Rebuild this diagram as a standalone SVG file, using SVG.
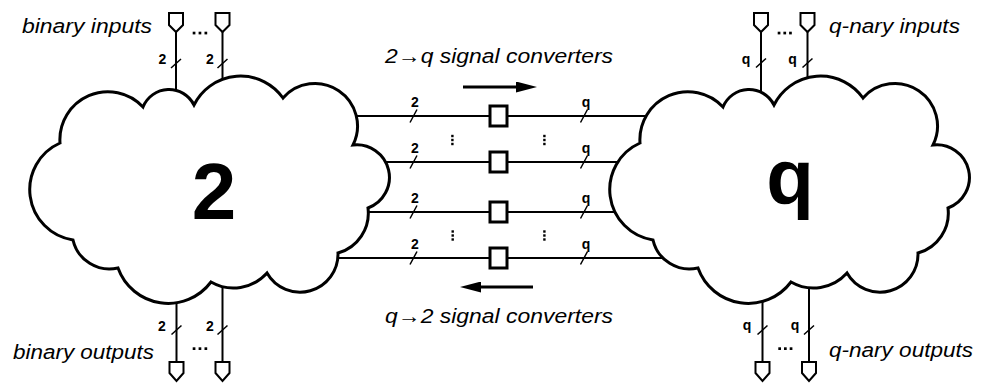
<svg xmlns="http://www.w3.org/2000/svg" width="982" height="383" viewBox="0 0 982 383">
<style>
.bg{fill:#fff}
.cloud{fill:#fff;stroke:#000;stroke-width:3;stroke-linejoin:miter}
.wire{stroke:#000;stroke-width:2;fill:none}
.slash{stroke:#000;stroke-width:1.5;fill:none}
.box{fill:#fff;stroke:#000;stroke-width:3}
.port{fill:#fff;stroke:#000;stroke-width:2;stroke-linejoin:miter}
.dir{stroke:#000;stroke-width:3;fill:none}
.dot{fill:#000}
.lbl{font-family:"Liberation Sans",Arial,sans-serif;font-weight:bold;font-size:14px;text-anchor:middle;fill:#000}
.cap{font-family:"Liberation Sans",Arial,sans-serif;font-style:italic;font-size:20px;fill:#000}
.big{font-family:"Liberation Sans",Arial,sans-serif;font-weight:bold;font-size:80px;text-anchor:middle;fill:#000}
</style>
<defs>
<marker id="head" viewBox="0 0 21 11" markerWidth="21" markerHeight="11" refX="9" refY="5.5" orient="auto" markerUnits="userSpaceOnUse">
<path d="M0,0 L21,5.5 L0,11 Z" fill="#000"/>
</marker>
<path id="cloudShape" d="M60,143 A48 48 0 0 1 143,107 A28 28 0 0 1 194,105 A52 52 0 0 1 283,98 A42.5 42.5 0 0 1 353,145 A32.6 32.6 0 0 1 368,208 A41.5 41.5 0 0 1 338,253 A38 38 0 0 1 267,273 A45 45 0 0 1 211,282 A53.4 53.4 0 0 1 118,268 A37.4 37.4 0 0 1 73,240 A51 51 0 0 1 60,143 Z"/>
</defs>
<rect class="bg" x="0" y="0" width="982" height="383"/>

<g id="connectors">
<line class="wire" x1="300" y1="116" x2="700" y2="116"/>
<line class="wire" x1="300" y1="162" x2="700" y2="162"/>
<line class="wire" x1="300" y1="212" x2="700" y2="212"/>
<line class="wire" x1="300" y1="258" x2="700" y2="258"/>
<line class="wire" x1="176" y1="32" x2="176" y2="100"/>
<line class="wire" x1="222.5" y1="32" x2="222.5" y2="95"/>
<line class="wire" x1="761" y1="32" x2="761" y2="100"/>
<line class="wire" x1="807.5" y1="32" x2="807.5" y2="95"/>
<line class="wire" x1="176.5" y1="290" x2="176.5" y2="362"/>
<line class="wire" x1="222.5" y1="270" x2="222.5" y2="362"/>
<line class="wire" x1="762.5" y1="290" x2="762.5" y2="362"/>
<line class="wire" x1="809" y1="270" x2="809" y2="362"/>
</g>

<g id="cloud-2">
<use href="#cloudShape" class="cloud"/>
<text class="big" x="214" y="218.5">2</text>
</g>
<g id="cloud-q">
<use href="#cloudShape" class="cloud" transform="translate(580,0)"/>
<text class="big" x="790" y="204" style="font-size:78px">q</text>
</g>

<g id="converters">
<rect class="box" x="490" y="106" width="17" height="20"/>
<rect class="box" x="490" y="152" width="17" height="20"/>
<rect class="box" x="490" y="202" width="17" height="20"/>
<rect class="box" x="490" y="248" width="17" height="20"/>
</g>

<g id="ports">
<polygon class="port" points="169,13 183,13 183,25 176,32 169,25"/>
<polygon class="port" points="215.5,13 229.5,13 229.5,25 222.5,32 215.5,25"/>
<polygon class="port" points="754,13 768,13 768,25 761,32 754,25"/>
<polygon class="port" points="800.5,13 814.5,13 814.5,25 807.5,32 800.5,25"/>
<polygon class="port" points="169.5,362 183.5,362 183.5,373 176.5,381 169.5,373"/>
<polygon class="port" points="215.5,362 229.5,362 229.5,373 222.5,381 215.5,373"/>
<polygon class="port" points="755.5,362 769.5,362 769.5,373 762.5,381 755.5,373"/>
<polygon class="port" points="802,362 816,362 816,373 809,381 802,373"/>
</g>

<g id="bus-widths">
<path class="slash" d="M410,122.5 L417,109.5 M580.5,122.5 L587.5,109.5 M410,168.5 L417,155.5 M580.5,168.5 L587.5,155.5 M410,218.5 L417,205.5 M580.5,218.5 L587.5,205.5 M410,264.5 L417,251.5 M580.5,264.5 L587.5,251.5"/>
<path class="slash" d="M171,68 L181,59 M217.5,68 L227.5,59 M756,67.5 L766,58.5 M802.5,67.5 L812.5,58.5 M171.5,334.5 L181.5,325.5 M217.5,334.5 L227.5,325.5 M757.5,334.5 L767.5,325.5 M804,334.5 L814,325.5"/>
<text class="lbl" x="415" y="106.5">2</text>
<text class="lbl" x="586" y="106.5">q</text>
<text class="lbl" x="415" y="152.5">2</text>
<text class="lbl" x="586" y="152.5">q</text>
<text class="lbl" x="415" y="202.5">2</text>
<text class="lbl" x="586" y="202.5">q</text>
<text class="lbl" x="415" y="248.5">2</text>
<text class="lbl" x="586" y="248.5">q</text>
<text class="lbl" x="162.5" y="64">2</text>
<text class="lbl" x="210" y="64">2</text>
<text class="lbl" x="746" y="63.5">q</text>
<text class="lbl" x="792.5" y="63.5">q</text>
<text class="lbl" x="162" y="331">2</text>
<text class="lbl" x="210" y="331">2</text>
<text class="lbl" x="747" y="330">q</text>
<text class="lbl" x="795" y="330">q</text>
</g>

<g id="ellipses">
<rect class="dot" x="192.7" y="31.7" width="2.7" height="2.7"/>
<rect class="dot" x="198.6" y="31.7" width="2.7" height="2.7"/>
<rect class="dot" x="204.5" y="31.7" width="2.7" height="2.7"/>
<rect class="dot" x="777.7" y="31.7" width="2.7" height="2.7"/>
<rect class="dot" x="783.4" y="31.7" width="2.7" height="2.7"/>
<rect class="dot" x="789.1" y="31.7" width="2.7" height="2.7"/>
<rect class="dot" x="192.7" y="347.3" width="2.7" height="2.7"/>
<rect class="dot" x="198.6" y="347.3" width="2.7" height="2.7"/>
<rect class="dot" x="204.5" y="347.3" width="2.7" height="2.7"/>
<rect class="dot" x="778.3" y="347.3" width="2.7" height="2.7"/>
<rect class="dot" x="784" y="347.3" width="2.7" height="2.7"/>
<rect class="dot" x="789.7" y="347.3" width="2.7" height="2.7"/>
<rect class="dot" x="451.2" y="134.8" width="2.4" height="2.4"/>
<rect class="dot" x="451.2" y="138.8" width="2.4" height="2.4"/>
<rect class="dot" x="451.2" y="142.8" width="2.4" height="2.4"/>
<rect class="dot" x="543.2" y="134.8" width="2.4" height="2.4"/>
<rect class="dot" x="543.2" y="138.8" width="2.4" height="2.4"/>
<rect class="dot" x="543.2" y="142.8" width="2.4" height="2.4"/>
<rect class="dot" x="451.5" y="230.3" width="2.4" height="2.4"/>
<rect class="dot" x="451.5" y="234.3" width="2.4" height="2.4"/>
<rect class="dot" x="451.5" y="238.3" width="2.4" height="2.4"/>
<rect class="dot" x="543.2" y="230.3" width="2.4" height="2.4"/>
<rect class="dot" x="543.2" y="234.3" width="2.4" height="2.4"/>
<rect class="dot" x="543.2" y="238.3" width="2.4" height="2.4"/>
</g>

<g id="directions">
<line class="dir" x1="463" y1="87" x2="525" y2="87" marker-end="url(#head)"/>
<line class="dir" x1="533" y1="287" x2="472" y2="287" marker-end="url(#head)"/>
</g>

<g id="captions">
<text class="cap" x="22" y="33" textLength="130" lengthAdjust="spacingAndGlyphs">binary inputs</text>
<text class="cap" x="829" y="33" textLength="131" lengthAdjust="spacingAndGlyphs">q-nary inputs</text>
<text class="cap" x="13" y="359" textLength="141" lengthAdjust="spacingAndGlyphs">binary outputs</text>
<text class="cap" x="829" y="357" textLength="144" lengthAdjust="spacingAndGlyphs">q-nary outputs</text>
<text class="cap" x="385" y="63" textLength="228" lengthAdjust="spacingAndGlyphs">2→q signal converters</text>
<text class="cap" x="385" y="323" textLength="228" lengthAdjust="spacingAndGlyphs">q→2 signal converters</text>
</g>
</svg>
